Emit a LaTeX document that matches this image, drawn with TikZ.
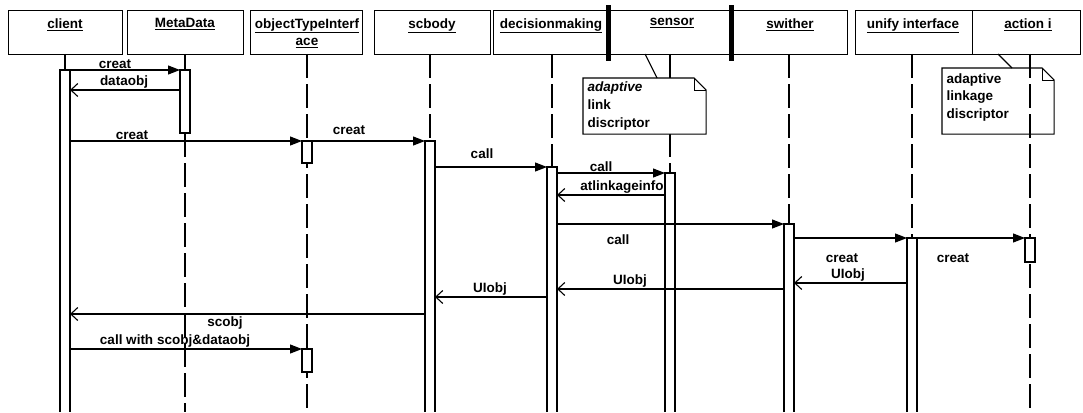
\documentclass[tikz,border=0pt]{standalone}
\usepackage{fontspec}
\setmainfont{Liberation Sans}
\usetikzlibrary{arrows.meta}
\begin{document}
\begin{tikzpicture}[x=1pt,y=-1pt,line width=1.1pt,
  headbox/.style={draw,line width=1.2pt,minimum height=44pt,anchor=north west,inner sep=0pt},
  headtxt/.style={font=\fontsize{13.5}{16}\selectfont\bfseries,inner sep=0pt,align=center,anchor=north},
  lbl/.style={font=\fontsize{13.5}{15}\selectfont\bfseries,inner sep=1pt},
  notetxt/.style={font=\fontsize{13.5}{18}\selectfont\bfseries,inner sep=0pt,align=left,anchor=north west},
  notebox/.style={minimum width=#1,inner sep=0pt,anchor=north west},
  life/.style={line width=1.1pt,dash pattern=on 24pt off 6pt},
  actbar/.style={draw,fill=white,line width=1.1pt},
  call/.style={-{Triangle[length=12pt,width=9pt]}},
  ret/.style={-{Straight Barb[length=7pt,width=13pt]}}]
\useasboundingbox (0,0) rectangle (1083,412);
% header boxes
\node[headbox,minimum width=114pt] (hclient) at (8,10) {};
\node[headbox,minimum width=116pt] (hmeta) at (127,10) {};
\node[headbox,minimum width=112pt] (hobj) at (250,10) {};
\node[headbox,minimum width=116pt] (hscb) at (374,10) {};
\node[headbox,minimum width=115pt] (hdec) at (493,10) {};
\node[headbox,minimum width=122pt] (hsen) at (608,10) {};
\node[headbox,minimum width=114pt] (hswi) at (733,10) {};
\node[headbox,minimum width=117pt] (huni) at (855,10) {};
\node[headbox,minimum width=108pt] (hact) at (972,10) {};
\node[headtxt] (tclient) at (65,18) {\underline{client}};
\node[headtxt] (tmeta) at (185,18) {\underline{MetaData}};
\node[headtxt] (tobj) at (307,18) {\underline{objectTypeInterf}\\[1pt]\underline{ace}};
\node[headtxt] (tscb) at (432,18) {\underline{scbody}};
\node[headtxt] (tdec) at (551,18) {\underline{decisionmaking}};
\node[headtxt] (tsen) at (672,18) {\underline{sensor}};
\node[headtxt] (tswi) at (790,18) {\underline{swither}};
\node[headtxt] (tuni) at (913,18) {\underline{unify interface}};
\node[headtxt] (tact) at (1028,18) {\underline{action i}};
% thick separators
\fill (606,5) rectangle (611,61);
\fill (729,5) rectangle (734,61);
% lifelines
\draw (65,54) -- (65,70);
\draw (185,54) -- (185,70);
\draw[life] (185,133) -- (185,412);
\draw[life] (307,54) -- (307,412);
\draw[life] (430,54) -- (430,141);
\draw[life] (552,54) -- (552,167);
\draw (670,54) -- (670,78);
\draw[life] (670,133) -- (670,173);
\draw[life] (789,54) -- (789,224);
\draw[life] (912,54) -- (912,238);
% notes
\node[notebox=122pt,minimum height=55pt] (note1) at (583,78) {};
\draw[fill=white,line width=1.2pt] (note1.north west) -- ([xshift=-12pt]note1.north east) -- ([yshift=-12pt]note1.north east) -- (note1.south east) -- (note1.south west) -- cycle;
\draw[line width=1pt] ([xshift=-12pt]note1.north east) -- ([xshift=-12pt,yshift=-12pt]note1.north east) -- ([yshift=-12pt]note1.north east);
\node[notetxt] (n1t) at (587,81) {\textit{adaptive}\\link\\discriptor};
\coordinate (n1a) at (645,54);
\coordinate (n1b) at (657,78);
\draw (n1a) -- (n1b);
\node[notebox=111pt,minimum height=65pt] (note2) at (942,68) {};
\draw[fill=white,line width=1.2pt] (note2.north west) -- ([xshift=-12pt]note2.north east) -- ([yshift=-12pt]note2.north east) -- (note2.south east) -- (note2.south west) -- cycle;
\draw[line width=1pt] ([xshift=-12pt]note2.north east) -- ([xshift=-12pt,yshift=-12pt]note2.north east) -- ([yshift=-12pt]note2.north east);
\node[notetxt,font=\fontsize{13.5}{17.5}\selectfont\bfseries] (n2t) at (946,73) {adaptive\\linkage\\discriptor};
\coordinate (n2a) at (998,54);
\coordinate (n2b) at (1012,68);
\draw (n2a) -- (n2b);
\draw[life] (1030,54) -- (1030,412);
% activation bars
\draw[actbar] (60,412) -- (60,70) -- (70,70) -- (70,412);
\draw[actbar] (180,70) rectangle (190,133);
\draw[actbar] (302,141) rectangle (312,163);
\draw[actbar] (302,349) rectangle (312,372);
\draw[actbar] (425,412) -- (425,141) -- (435,141) -- (435,412);
\draw[actbar] (547,412) -- (547,167) -- (557,167) -- (557,412);
\draw[actbar] (665,412) -- (665,173) -- (675,173) -- (675,412);
\draw[actbar] (784,412) -- (784,224) -- (794,224) -- (794,412);
\draw[actbar] (907,412) -- (907,238) -- (917,238) -- (917,412);
\draw[actbar] (1025,238) rectangle (1035,262);
% message end points
\coordinate (m1s) at (70,70);   \coordinate (m1e) at (180,70);
\coordinate (m2s) at (180,90);  \coordinate (m2e) at (70,90);
\coordinate (m3s) at (70,141);  \coordinate (m3e) at (302,141);
\coordinate (m4s) at (312,141); \coordinate (m4e) at (425,141);
\coordinate (m5s) at (435,167); \coordinate (m5e) at (547,167);
\coordinate (m6s) at (557,173); \coordinate (m6e) at (665,173);
\coordinate (m7s) at (665,195); \coordinate (m7e) at (557,195);
\coordinate (m8s) at (557,224); \coordinate (m8e) at (784,224);
\coordinate (m9s) at (794,238); \coordinate (m9e) at (907,238);
\coordinate (m10s) at (917,238); \coordinate (m10e) at (1025,238);
\coordinate (m11s) at (907,283); \coordinate (m11e) at (794,283);
\coordinate (m12s) at (784,289); \coordinate (m12e) at (557,289);
\coordinate (m13s) at (547,297); \coordinate (m13e) at (435,297);
\coordinate (m14s) at (425,314); \coordinate (m14e) at (70,314);
\coordinate (m15s) at (70,349); \coordinate (m15e) at (302,349);
% messages
\draw[call] (m1s) -- (m1e);
\draw[ret] (m2s) -- (m2e);
\draw[call] (m3s) -- (m3e);
\draw[call] (m4s) -- (m4e);
\draw[call] (m5s) -- (m5e);
\draw[call] (m6s) -- (m6e);
\draw[ret] (m7s) -- (m7e);
\draw[call] (m8s) -- (m8e);
\draw[call] (m9s) -- (m9e);
\draw[call] (m10s) -- (m10e);
\draw[ret] (m11s) -- (m11e);
\draw[ret] (m12s) -- (m12e);
\draw[ret] (m13s) -- (m13e);
\draw[ret] (m14s) -- (m14e);
\draw[call] (m15s) -- (m15e);
% labels
\node[lbl,anchor=south] (l1) at (115,70) {creat};
\node[lbl,anchor=south] (l2) at (124,90) {dataobj};
\node[lbl,anchor=south] (l3) at (132,141) {creat};
\node[lbl,anchor=south] (l4) at (349,136) {creat};
\node[lbl,anchor=south] (l5) at (482,160) {call};
\node[lbl,anchor=south] (l6) at (601,173) {call};
\node[lbl,anchor=south] (l7) at (622,195) {atlinkageinfo};
\node[lbl,anchor=north] (l8) at (618,233) {call};
\node[lbl,anchor=north] (l9) at (842,252) {creat};
\node[lbl,anchor=north] (l10) at (953,252) {creat};
\node[lbl,anchor=south] (l11) at (848,283) {UIobj};
\node[lbl,anchor=south] (l12) at (630,289) {UIobj};
\node[lbl,anchor=south] (l13) at (490,297) {UIobj};
\node[lbl,anchor=north] (l14) at (225,315) {scobj};
\node[lbl,anchor=south] (l15) at (175,349) {call with scobj\&dataobj};
\end{tikzpicture}
\end{document}
